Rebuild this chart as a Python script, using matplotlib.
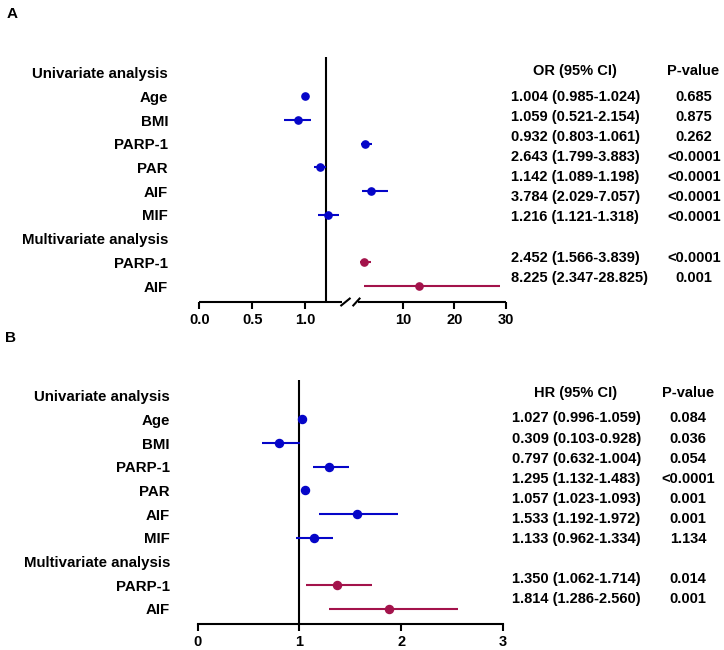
import numpy as np
import matplotlib
matplotlib.use("Agg")
import matplotlib.pyplot as plt

plt.rcParams['font.family'] = ['Liberation Sans', 'DejaVu Sans']
plt.rcParams['font.weight'] = 'bold'

BLUE = '#0505c8'
RED = '#a3134b'

row_labels = ['Univariate analysis', 'Age', 'BMI', 'PARP-1', 'PAR', 'AIF', 'MIF',
              'Multivariate analysis', 'PARP-1', 'AIF']
uni_rows = [1, 2, 3, 4, 5, 6]
multi_rows = [8, 9]

# panel A (odds ratios, broken axis)
a_uni_est = [1.004, 0.932, 2.643, 1.142, 3.784, 1.216]
a_uni_lo = [0.985, 0.803, 1.799, 1.089, 2.029, 1.121]
a_uni_hi = [1.024, 1.061, 3.883, 1.198, 7.057, 1.318]
a_multi_est = [2.452, 13.2]
a_multi_lo = [1.566, 2.347]
a_multi_hi = [3.839, 28.825]
a_ref = 1.2
a_ticks = [0.0, 0.5, 1.0, 10, 20, 30]
a_ticklabels = ['0.0', '0.5', '1.0', '10', '20', '30']
a_ci_text = ['1.004 (0.985-1.024)', '1.059 (0.521-2.154)', '0.932 (0.803-1.061)',
             '2.643 (1.799-3.883)', '1.142 (1.089-1.198)', '3.784 (2.029-7.057)',
             '1.216 (1.121-1.318)', '2.452 (1.566-3.839)', '8.225 (2.347-28.825)']
a_p_text = ['0.685', '0.875', '0.262', '<0.0001', '<0.0001', '<0.0001', '<0.0001',
            '<0.0001', '0.001']

# panel B (hazard ratios)
b_uni_est = [1.027, 0.797, 1.295, 1.057, 1.57, 1.14]
b_uni_lo = [0.996, 0.632, 1.132, 1.023, 1.192, 0.962]
b_uni_hi = [1.059, 1.004, 1.483, 1.093, 1.972, 1.334]
b_multi_est = [1.37, 1.88]
b_multi_lo = [1.062, 1.286]
b_multi_hi = [1.714, 2.560]
b_ref = 1.0
b_ticks = [0, 1, 2, 3]
b_ci_text = ['1.027 (0.996-1.059)', '0.309 (0.103-0.928)', '0.797 (0.632-1.004)',
             '1.295 (1.132-1.483)', '1.057 (1.023-1.093)', '1.533 (1.192-1.972)',
             '1.133 (0.962-1.334)', '1.350 (1.062-1.714)', '1.814 (1.286-2.560)']
b_p_text = ['0.084', '0.036', '0.054', '<0.0001', '0.001', '0.001', '1.134',
            '0.014', '0.001']

W, H = 724, 650
fig = plt.figure(figsize=(W / 100, H / 100), dpi=100)

def px_axes(left, right, top, bottom):
    return fig.add_axes([left / W, 1 - bottom / H, (right - left) / W, (bottom - top) / H])

def ftext(x, y, s, **kw):
    fig.text(x / W, 1 - y / H, s, fontsize=10.5, fontweight='bold', va='center', **kw)

# piecewise scale: 0..~1.5 stretched, then 1.5..30 compressed
K1, K2, U10 = 105.7, 5.135, 203.7
KNEE = (U10 - 10 * K2) / (K1 - K2)

def fwd(x):
    x = np.asarray(x, dtype=float)
    return np.where(x <= KNEE, x * K1, U10 + (x - 10) * K2)

def inv(u):
    u = np.asarray(u, dtype=float)
    return np.where(u <= KNEE * K1, u / K1, 10 + (u - U10) / K2)

def forest(ax, uni, multi, ref, pad, ms):
    for (est, lo, hi), rows, col in ((uni, uni_rows, BLUE), (multi, multi_rows, RED)):
        est = np.array(est)
        err = [est - np.array(lo), np.array(hi) - est]
        ax.errorbar(est, rows, xerr=err, fmt='o', color=col, ms=ms, lw=1.5,
                    capsize=0, zorder=3)
    ax.axvline(ref, color='black', lw=1.5, zorder=2)
    ax.set_yticks(range(len(row_labels)))
    ax.set_yticklabels(row_labels, fontsize=10.8, fontweight='bold')
    ax.tick_params(axis='y', length=0, pad=pad)
    ax.tick_params(axis='x', direction='out', length=5, width=1.5, labelsize=10.5, pad=3)
    for lab in ax.get_xticklabels():
        lab.set_fontweight('bold')
    for s in ('top', 'right', 'left'):
        ax.spines[s].set_visible(False)
    ax.patch.set_visible(False)

# ---- panel A
axA = px_axes(199.3, 199.3 + float(fwd(30)), 56.7, 302)
axA.set_xscale('function', functions=(fwd, inv))
axA.set_xlim(0, 30)
axA.set_ylim(9.675, -0.675)
axA.set_xticks(a_ticks)
axA.set_xticklabels(a_ticklabels)
forest(axA, (a_uni_est, a_uni_lo, a_uni_hi), (a_multi_est, a_multi_lo, a_multi_hi),
       a_ref, 22.5, 5.2)
axA.spines['bottom'].set_visible(False)
tr = axA.get_xaxis_transform()
axA.plot([0, 1.35], [0, 0], color='black', lw=1.5, transform=tr, clip_on=False,
         solid_capstyle='butt')
axA.plot([1.50, 30], [0, 0], color='black', lw=1.5, transform=tr, clip_on=False,
         solid_capstyle='butt')
for xc in (1.383, 1.497):
    axA.plot([xc - 0.04, xc + 0.04], [-0.014, 0.014], color='black', lw=1.5,
             transform=tr, clip_on=False)

# ---- panel B
axB = px_axes(197.7, 503, 380, 624)
axB.set_xlim(0, 3)
axB.set_ylim(9.633, -0.662)
axB.set_xticks(b_ticks)
forest(axB, (b_uni_est, b_uni_lo, b_uni_hi), (b_multi_est, b_multi_lo, b_multi_hi),
       b_ref, 20, 5.8)
axB.spines['bottom'].set_linewidth(1.5)

# ---- tables
a_rows_y = [96.7, 116.7, 136.7, 156.7, 176.7, 196.7, 216.7, 258.3, 278.3]
b_rows_y = [418.3, 439.3, 459.3, 479.3, 499.3, 519.3, 539.3, 579.3, 599.3]
ftext(575, 71, 'OR (95% CI)', ha='center')
ftext(693, 71, 'P-value', ha='center')
for y, c, p in zip(a_rows_y, a_ci_text, a_p_text):
    ftext(511, y, c, ha='left')
    ftext(694, y, p, ha='center')
ftext(576, 393.3, 'HR (95% CI)', ha='center')
ftext(688, 393.3, 'P-value', ha='center')
for y, c, p in zip(b_rows_y, b_ci_text, b_p_text):
    ftext(511.5, y, c, ha='left')
    ftext(688, y, p, ha='center')

fig.text(7 / W, 1 - 14 / H, 'A', fontsize=11, fontweight='bold', va='center')
fig.text(5 / W, 1 - 338 / H, 'B', fontsize=11, fontweight='bold', va='center')

fig.savefig('out.png', dpi=100)
